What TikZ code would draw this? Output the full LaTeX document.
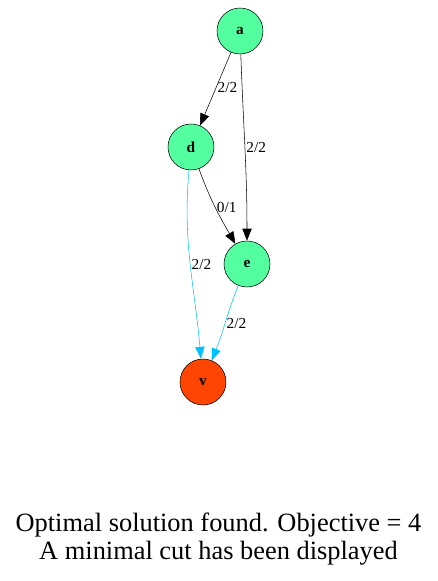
\documentclass[tikz,border=0pt]{standalone}
\usepackage{fontspec}
\setmainfont{Liberation Serif}
\usetikzlibrary{arrows.meta}
\definecolor{seagreen}{RGB}{84,255,159}
\definecolor{orangered}{RGB}{255,69,0}
\definecolor{deepskyblue}{RGB}{0,191,255}
\begin{document}
\begin{tikzpicture}[x=0.75pt,y=-0.75pt]
\tikzset{
  graphnode/.style={circle,draw,thin,minimum size=34.5pt,inner sep=1pt,font=\bfseries\fontsize{11.5}{13}\selectfont},
  directed/.style={-{Triangle[length=9pt,width=7pt]},thin},
  flowlabel/.style={font=\fontsize{11.5}{13}\selectfont,inner sep=1pt}
}
\useasboundingbox (0,0) rectangle (437,581);
\node[graphnode,fill=seagreen] (n_a) at (240,31) {a};
\node[graphnode,fill=seagreen] (n_d) at (191,147) {d};
\node[graphnode,fill=seagreen] (n_e) at (247,264) {e};
\node[graphnode,fill=orangered] (n_v) at (203,382) {v};
\draw[directed] (n_a) -- (n_d) node[flowlabel,pos=0.48,right] {2/2};
\draw[directed] (n_a) to[out=-88,in=90] node[flowlabel,pos=0.5,right] {2/2} (n_e);
\draw[directed] (n_d) to[out=-70,in=120] node[flowlabel,pos=0.5,right] {0/1} (n_e);
\draw[directed,deepskyblue] (n_d) to[out=-95,in=95] node[flowlabel,pos=0.5,right,black] {2/2} (n_v);
\draw[directed,deepskyblue] (n_e) to[out=-112,in=68] node[flowlabel,pos=0.5,right,black] {2/2} (n_v);
\node[font=\fontsize{19.8}{21.5}\selectfont,align=center] (caption) at (218.5,539)
  {Optimal solution found. Objective = 4\\A minimal cut has been displayed};
\end{tikzpicture}
\end{document}
